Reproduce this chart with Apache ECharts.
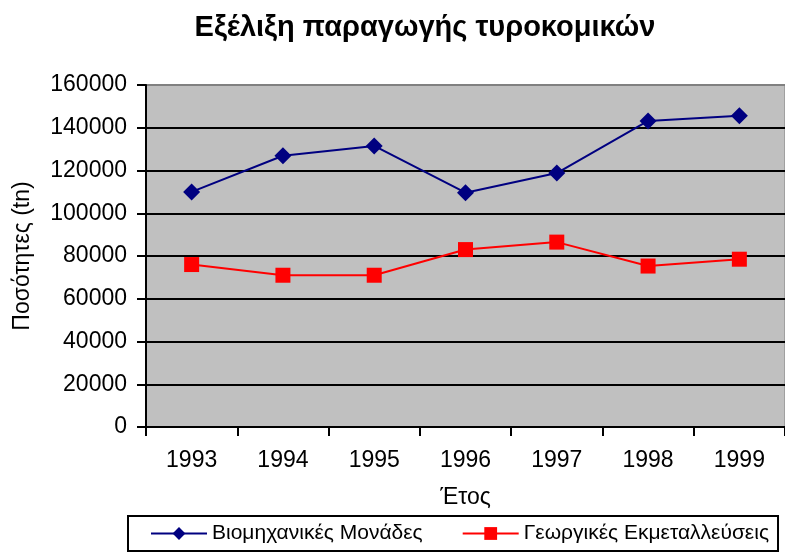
<!DOCTYPE html>
<html><head><meta charset="utf-8">
<script src="https://cdn.jsdelivr.net/npm/echarts@6/dist/echarts.min.js"></script>
<style>html,body{margin:0;padding:0;background:#fff}#c{width:785px;height:558px}</style>
</head><body><div id="c"></div>
<script>
const years = ['1993','1994','1995','1996','1997','1998','1999'];
const industrial = [110000, 126900, 131500, 109600, 118800, 143200, 145600];
const farms = [76000, 71000, 71000, 83000, 86500, 75300, 78500];
const yTicks = {min: 0, max: 160000, interval: 20000};

const chart = echarts.init(document.getElementById('c'), null, {renderer: 'canvas'});
const font = 'Arial, "Liberation Sans", sans-serif';
const gridColors = ['#000','#000','#000','#000','#000','#000','#000','#000','#808080'];
chart.setOption({
  animation: false,
  backgroundColor: '#fff',
  title: {
    text: 'Εξέλιξη παραγωγής τυροκομικών',
    left: 420, top: 8, textAlign: 'center',
    textStyle: {fontFamily: font, fontSize: 29, fontWeight: 'bold', color: '#000'}
  },
  grid: {
    left: 146, right: 0, top: 85, bottom: 131,
    show: true, backgroundColor: '#C0C0C0', borderColor: '#808080', borderWidth: 1
  },
  legend: {
    left: 128, top: 516, width: 700,
    padding: [7, 9, 7, 22],
    borderColor: '#000', borderWidth: 2, borderRadius: 0,
    itemWidth: 56, itemHeight: 16, itemGap: 39,
    textStyle: {fontFamily: font, fontSize: 21, color: '#000'},
    data: ['Βιομηχανικές Μονάδες', 'Γεωργικές Εκμεταλλεύσεις']
  },
  xAxis: {
    type: 'category', data: years, boundaryGap: true,
    name: 'Έτος', nameLocation: 'middle', nameGap: 59,
    nameTextStyle: {fontFamily: font, fontSize: 23, color: '#000'},
    axisLine: {lineStyle: {color: '#000', width: 2}},
    axisTick: {show: true, length: 9, lineStyle: {color: '#000', width: 2}},
    axisLabel: {fontFamily: font, fontSize: 23, color: '#000', margin: 22},
    splitLine: {show: false}
  },
  yAxis: {
    type: 'value', min: yTicks.min, max: yTicks.max, interval: yTicks.interval,
    name: 'Ποσότητες (tn)', nameLocation: 'middle', nameGap: 112, nameRotate: 90,
    nameTextStyle: {fontFamily: font, fontSize: 23, color: '#000'},
    axisLine: {show: true, lineStyle: {color: '#000', width: 2}},
    axisTick: {show: true, length: 9, lineStyle: {color: '#000', width: 2}},
    axisLabel: {fontFamily: font, fontSize: 23, color: '#000', margin: 19,
      formatter: v => String(v)},
    splitLine: {show: true, lineStyle: {color: gridColors, width: 2}}
  },
  series: [
    {
      name: 'Βιομηχανικές Μονάδες', type: 'line', data: industrial,
      symbol: 'diamond', symbolSize: 17,
      lineStyle: {color: '#000080', width: 2},
      itemStyle: {color: '#000080'}
    },
    {
      name: 'Γεωργικές Εκμεταλλεύσεις', type: 'line', data: farms,
      symbol: 'rect', symbolSize: 15,
      lineStyle: {color: '#FF0000', width: 2},
      itemStyle: {color: '#FF0000'}
    }
  ]
});
</script></body></html>
